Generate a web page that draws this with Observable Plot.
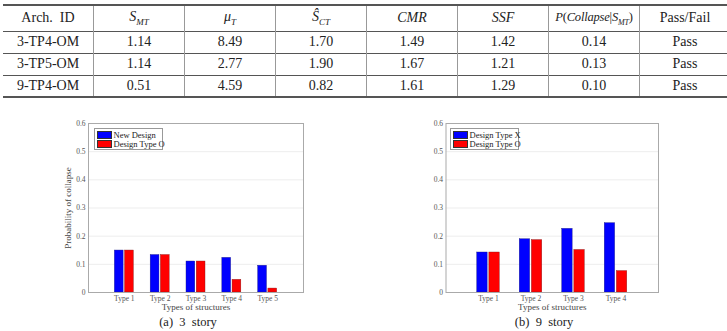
<!DOCTYPE html>
<html>
<head>
<meta charset="utf-8">
<script src="https://cdn.jsdelivr.net/npm/d3@7"></script>
<script src="https://cdn.jsdelivr.net/npm/@observablehq/plot@0.6"></script>
<style>
  html, body { margin: 0; padding: 0; background: #fff; }
  body { width: 727px; height: 331px; position: relative; overflow: hidden;
         font-family: "Liberation Serif", "DejaVu Serif", serif; color: #222; }
  table { position: absolute; left: 3px; top: 4px; width: 720px; border-collapse: collapse;
          table-layout: fixed; font-size: 14px; }
  th, td { width: 90px; text-align: center; padding: 0; border-left: 1px solid #999; border-right: 1px solid #999;
           font-weight: normal; white-space: nowrap; }
  th:first-child, td:first-child { border-left: none; }
  th:last-child, td:last-child { border-right: none; }
  thead tr { height: 26px; border-top: 2px solid #555; border-bottom: 1px solid #555; }
  tbody tr { height: 22px; border-bottom: 1px solid #555; }
  tbody tr:last-child { border-bottom: 2px solid #555; }
  th sub { font-size: 9px; font-style: italic; }
  th.pc { font-size: 12.5px; letter-spacing: -0.2px; }
  th.pc sub { font-size: 8px; }
  .chart { position: absolute; }
  .legend { position: absolute; background: #fff; border: 1px solid #999; font-size: 8.5px;
            padding: 2px 2px; box-sizing: border-box; color: #222; white-space: nowrap; }
  .legend div { display: flex; align-items: center; height: 8.5px; line-height: 8.5px; }
  .legend span.sw { display: inline-block; flex: none; width: 15px; height: 8px; margin-right: 1.5px; box-sizing: border-box;
                    border: 0.5px solid #333; }
  .caption { position: absolute; font-size: 12.5px; white-space: pre; transform: translateX(-50%); }
</style>
</head>
<body>
<table id="tbl">
  <thead>
    <tr>
      <th>Arch.&nbsp; ID</th>
      <th><i>S</i><sub>MT</sub></th>
      <th><i>μ</i><sub>T</sub></th>
      <th><i>Ŝ</i><sub>CT</sub></th>
      <th><i>CMR</i></th>
      <th><i>SSF</i></th>
      <th class="pc"><i>P</i>(<i>Collapse</i>|<i>S</i><sub>MT</sub>)</th>
      <th>Pass/Fail</th>
    </tr>
  </thead>
  <tbody id="tbody"></tbody>
</table>

<div id="left" class="chart" style="left:40px; top:113px;"></div>
<div id="right" class="chart" style="left:400px; top:113px;"></div>

<div class="legend" style="left:94px; top:128px; width:69px; height:22px;">
  <div><span class="sw" style="background:#0000ff"></span>New Design</div>
  <div><span class="sw" style="background:#ff0000"></span>Design Type O</div>
</div>
<div class="legend" style="left:450px; top:128px; width:69px; height:22px;">
  <div><span class="sw" style="background:#0000ff"></span>Design Type X</div>
  <div><span class="sw" style="background:#ff0000"></span>Design Type O</div>
</div>

<div class="caption" style="left:188px; top:315px;">(a)  3  story</div>
<div class="caption" style="left:544px; top:315px;">(b)  9  story</div>

<script>
// Table values
const archIds   = ["3-TP4-OM", "3-TP5-OM", "9-TP4-OM"];
const sMT       = ["1.14", "1.14", "0.51"];
const muT       = ["8.49", "2.77", "4.59"];
const sCT       = ["1.70", "1.90", "0.82"];
const cmr       = ["1.49", "1.67", "1.61"];
const ssf       = ["1.42", "1.21", "1.29"];
const pCollapse = ["0.14", "0.13", "0.10"];
const passFail  = ["Pass", "Pass", "Pass"];

// Probability of collapse, 3-story structures
const types3     = ["Type 1", "Type 2", "Type 3", "Type 4", "Type 5"];
const newDesign3 = [0.149, 0.133, 0.110, 0.123, 0.095];
const typeO3     = [0.149, 0.133, 0.110, 0.045, 0.014];

// Probability of collapse, 9-story structures
const types9  = ["Type 1", "Type 2", "Type 3", "Type 4"];
const typeX9  = [0.142, 0.189, 0.226, 0.246];
const typeO9  = [0.142, 0.186, 0.151, 0.076];

const yTicks = [0, 0.1, 0.2, 0.3, 0.4, 0.5, 0.6];

// fill the table body
const tbody = document.getElementById("tbody");
archIds.forEach((id, i) => {
  const tr = document.createElement("tr");
  [id, sMT[i], muT[i], sCT[i], cmr[i], ssf[i], pCollapse[i], passFail[i]].forEach(v => {
    const td = document.createElement("td");
    td.textContent = v;
    tr.appendChild(td);
  });
  tbody.appendChild(tr);
});

// grouped bars: blue series left of the category position, red series right
function groupedBars(types, blue, red, opts) {
  const n = types.length;
  const rowsBlue = types.map((t, i) => ({x1: i + 1 - 0.265, x2: i + 1 - 0.02, v: blue[i]}));
  const rowsRed  = types.map((t, i) => ({x1: i + 1 + 0.02, x2: i + 1 + 0.265, v: red[i]}));
  const marks = [
    Plot.ruleY(yTicks.slice(1, -1), {stroke: "#e8e8e8", strokeWidth: 0.8}),
    Plot.rect(rowsBlue, {x1: "x1", x2: "x2", y1: 0, y2: "v", fill: "#0000ff", stroke: "#1a1a80", strokeWidth: 0.4}),
    Plot.rect(rowsRed,  {x1: "x1", x2: "x2", y1: 0, y2: "v", fill: "#ff0000", stroke: "#801a1a", strokeWidth: 0.4}),
    Plot.frame({stroke: "#aaa", strokeWidth: 1}),
    // axis titles
    Plot.text(["Types of structures"], {frameAnchor: "bottom", dy: 17, fontSize: 9, fill: "#444"})
  ];
  if (opts.yLabel) {
    marks.push(Plot.text([opts.yLabel], {frameAnchor: "left", textAnchor: "middle", rotate: -90, dx: -20, fontSize: 9, fill: "#444"}));
  }
  return Plot.plot({
    width: opts.width,
    height: 205,
    marginTop: 10,
    marginBottom: 26,
    marginLeft: opts.marginLeft,
    marginRight: 10,
    style: {fontFamily: "Liberation Serif, serif", fontSize: "7.5px", color: "#555", background: "#fff", overflow: "visible"},
    x: {
      type: "linear",
      domain: [0, n + 1],
      ticks: types.map((t, i) => i + 1),
      tickFormat: d => types[d - 1],
      tickSize: 0,
      tickPadding: 3,
      label: null
    },
    y: {
      domain: [0, 0.6],
      ticks: yTicks,
      tickFormat: d => d === 0 ? "0" : d3.format(".1f")(d),
      tickSize: 0,
      tickPadding: 3,
      label: null
    },
    marks
  });
}

document.getElementById("left").appendChild(
  groupedBars(types3, newDesign3, typeO3, {width: 273, marginLeft: 48, yLabel: "Probability of collapse"})
);
document.getElementById("right").appendChild(
  groupedBars(types9, typeX9, typeO9, {width: 268, marginLeft: 45.5, yLabel: null})
);
</script>
</body>
</html>
